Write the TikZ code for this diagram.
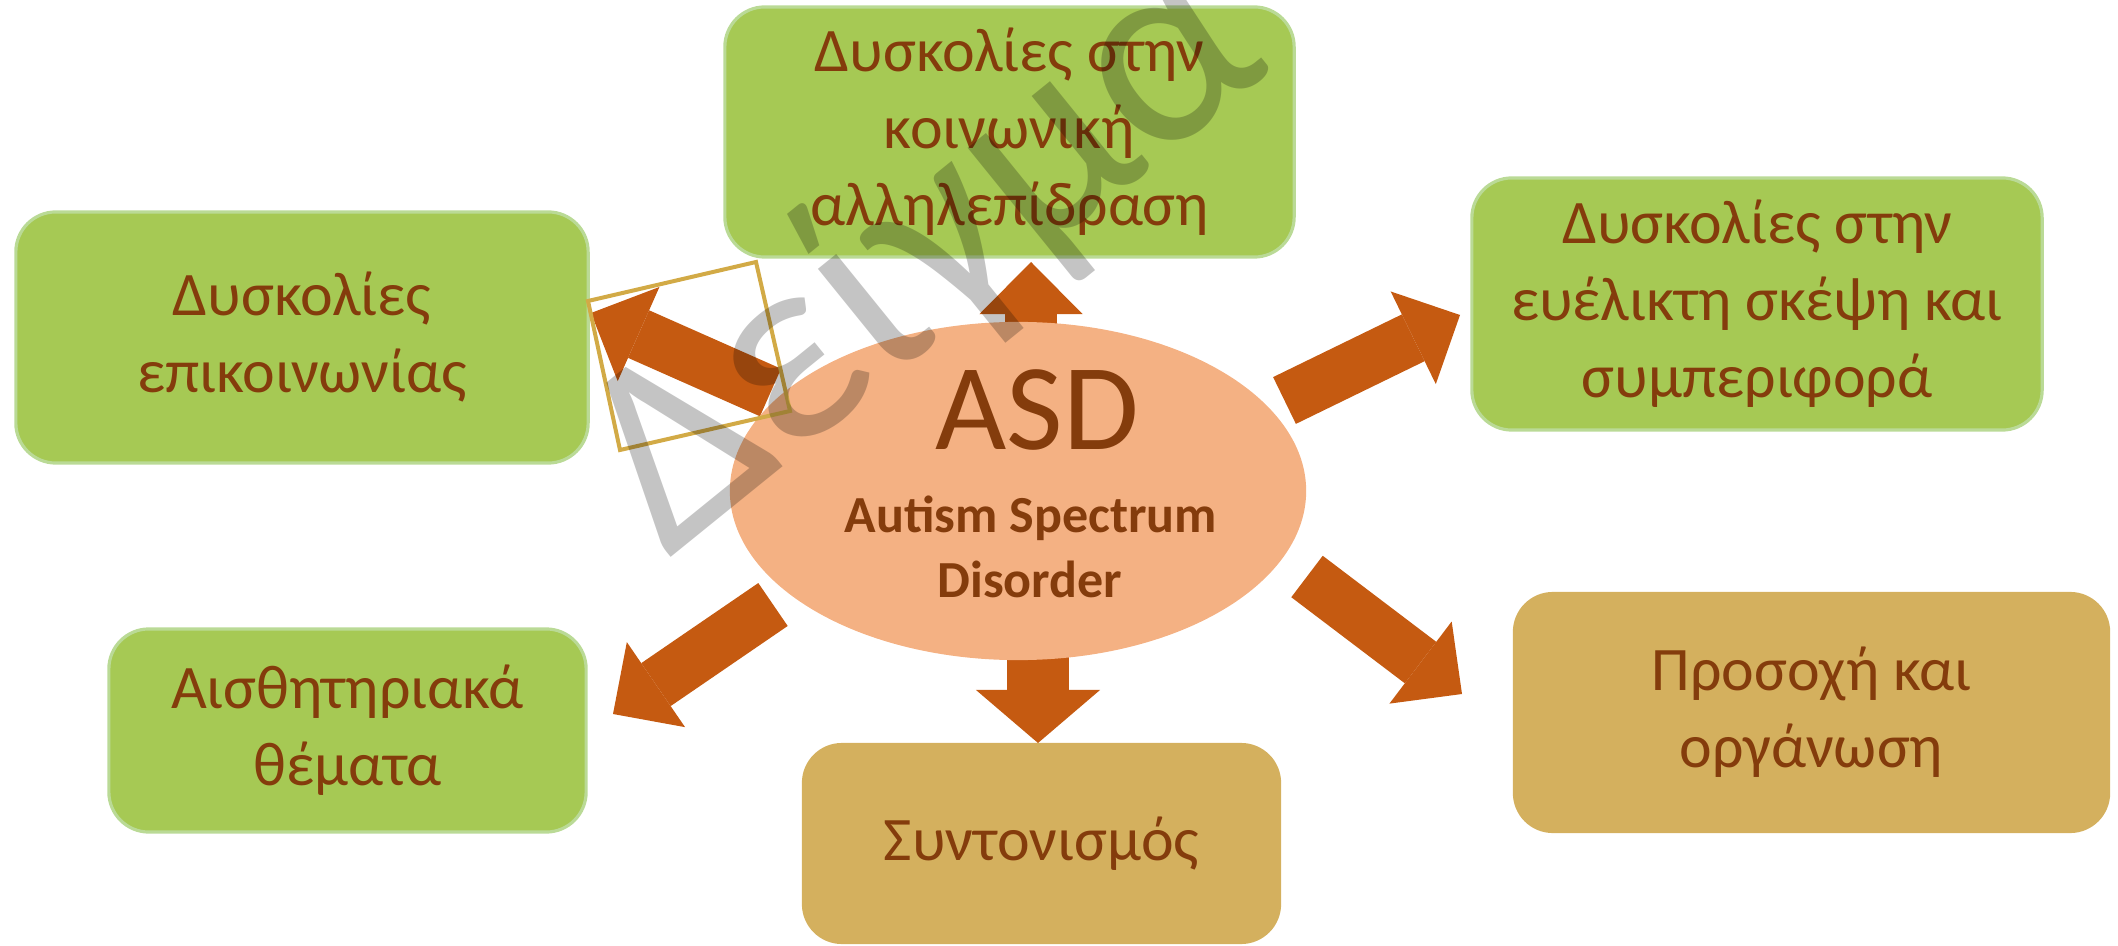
\documentclass[tikz,border=0pt]{standalone}
\usepackage{fontspec}
\setmainfont{Carlito}
\usetikzlibrary{shapes.geometric}
\usetikzlibrary{arrows.meta}

\definecolor{boxgreen}{RGB}{166,201,84}
\definecolor{boxedge}{RGB}{186,218,150}
\definecolor{boxgold}{RGB}{212,176,94}
\definecolor{asdfill}{RGB}{244,177,131}
\definecolor{arr}{RGB}{197,90,17}
\definecolor{txt}{RGB}{132,60,12}
\definecolor{selframe}{RGB}{210,170,70}

\newcommand{\boxfont}{\fontsize{17.6}{21.9}\selectfont}

\tikzset{box/.style={rectangle, rounded corners=0.4cm, inner sep=0pt, align=center, text=txt, font=\boxfont}}
\tikzset{gbox/.style={box, fill=boxgreen, draw=boxedge, line width=0.9pt}}
\tikzset{ybox/.style={box, fill=boxgold}}
\tikzset{blk/.style={draw=arr, line width=0.52cm, -{Triangle[length=0.52cm, width=1.03cm, line width=0pt, fill=arr]}}}
\tikzset{blkwide/.style={draw=arr, line width=0.62cm, -{Triangle[length=0.53cm, width=1.24cm, line width=0pt, fill=arr]}}}

\begin{document}
\begin{tikzpicture}[x=0.01cm, y=-0.01cm]
        \useasboundingbox (0,0) rectangle (2118,946);

        \node[gbox, minimum width=5.72cm, minimum height=2.51cm] (comm) at (302,337.5) {Δυσκολίες\\επικοινωνίας};
        \node[gbox, minimum width=5.69cm, minimum height=2.50cm] (social) at (1009.5,132) {Δυσκολίες στην\\κοινωνική\\αλληλεπίδραση};
        \node[gbox, minimum width=5.70cm, minimum height=2.52cm] (flex) at (1757,304) {Δυσκολίες στην\\ευέλικτη σκέψη και\\συμπεριφορά};
        \node[gbox, minimum width=4.77cm, minimum height=2.03cm] (sens) at (347.5,730.5) {Αισθητηριακά\\θέματα};
        \node[ybox, minimum width=4.79cm, minimum height=2.01cm] (coord) at (1041.5,843.5) {Συντονισμός};
        \node[ybox, minimum width=5.97cm, minimum height=2.41cm] (attn) at (1811.5,712.5) {Προσοχή και\\οργάνωση};

        % block arrows
        \coordinate (up0) at (1031,450);
        \coordinate (up1) at (1031,262);
        \coordinate (dn0) at (1038,560);
        \coordinate (dn1) at (1038,743);
        \coordinate (ul0) at (770.5,392.5);
        \coordinate (ul1) at (591,313);
        \coordinate (ur0) at (1284.5,400.5);
        \coordinate (ur1) at (1460,315);
        \coordinate (dl0) at (773,604.5);
        \coordinate (dl1) at (613,714);
        \coordinate (dr0) at (1307,576.5);
        \coordinate (dr1) at (1462,694);

        \draw[blk] (up0) -- (up1);
        \draw[blkwide] (dn0) -- (dn1);
        \draw[blk] (ul0) -- (ul1);
        \draw[blk] (ur0) -- (ur1);
        \draw[blk] (dl0) -- (dl1);
        \draw[blk] (dr0) -- (dr1);

        \node[ellipse, fill=asdfill, minimum width=5.76cm, minimum height=3.38cm, inner sep=0pt] (asd) at (1018,491) {};
        \node[text=txt, font=\fontsize{35}{40}\selectfont, anchor=base, inner sep=0pt] (asdtitle) at (1037,450) {ASD};
        \node[text=txt, font=\bfseries\fontsize{14.8}{18}\selectfont, anchor=base, inner sep=0pt] (asdline1) at (1031,533) {Autism Spectrum};
        \node[text=txt, font=\bfseries\fontsize{14.8}{18}\selectfont, anchor=base, inner sep=0pt] (asdline2) at (1030,597) {Disorder};

        \draw[selframe, line width=0.04cm] (588,301) -- (756,262) -- (790,411) -- (620,450) -- cycle;

        \node[rotate=39, anchor=base west, inner sep=0pt, text=black, text opacity=0.23, font=\fontsize{78}{90}\selectfont] (mark) at (668,560) {Δείγμα};
\end{tikzpicture}
\end{document}
